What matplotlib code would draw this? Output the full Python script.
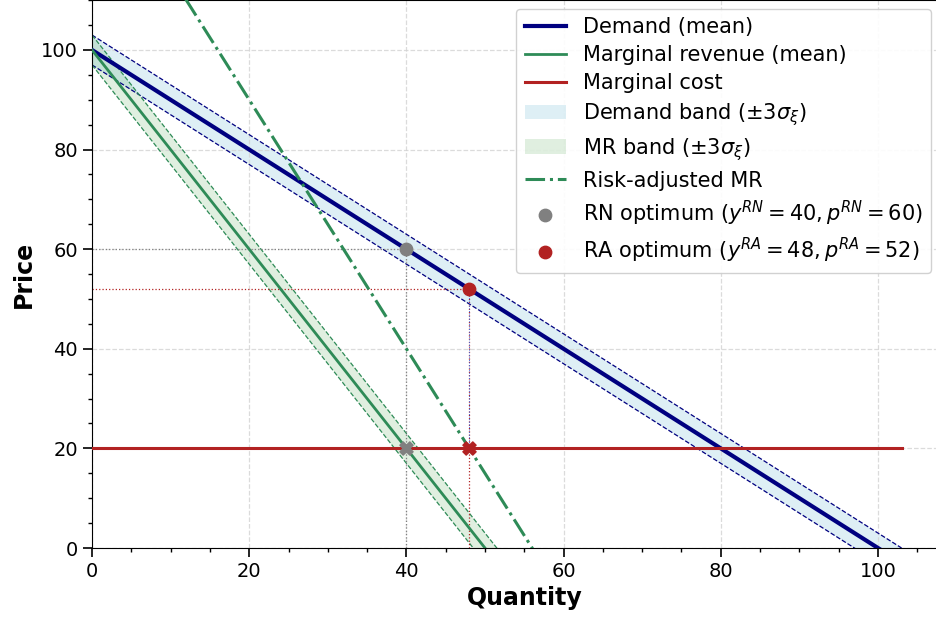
import numpy as np
import matplotlib
matplotlib.use("Agg")
import matplotlib.pyplot as plt

# Model parameters
demand_intercept = 100.0
demand_slope = 1.0
band_halfwidth = 3.0          # 3 * sigma_xi
marginal_cost = 20.0
ra_mr_intercept = 140.0
ra_mr_slope = 2.5
q_max = 103.0

# Optima
y_rn, p_rn = 40, 60
y_ra, p_ra = 48, 52

q = np.linspace(0, q_max, 600)
demand = demand_intercept - demand_slope * q
mr = demand_intercept - 2 * demand_slope * q
ra_mr = ra_mr_intercept - ra_mr_slope * q

fig = plt.figure(figsize=(9.36, 6.19), dpi=100)
ax = fig.add_axes([0.0983, 0.1147, 0.9237, 0.885])

# Uncertainty bands
ax.fill_between(q, demand - band_halfwidth, demand + band_halfwidth,
                color="lightblue", alpha=0.4, lw=0, label=r"Demand band ($\pm3\sigma_\xi$)")
ax.plot(q, demand + band_halfwidth, color="navy", ls="--", lw=0.9)
ax.plot(q, demand - band_halfwidth, color="navy", ls="--", lw=0.9)
ax.fill_between(q, mr - band_halfwidth, mr + band_halfwidth,
                color="green", alpha=0.12, lw=0, label=r"MR band ($\pm3\sigma_\xi$)")
ax.plot(q, mr + band_halfwidth, color="seagreen", ls="--", lw=0.9)
ax.plot(q, mr - band_halfwidth, color="seagreen", ls="--", lw=0.9)

# Mean curves
ax.plot(q, demand, color="navy", lw=3, label="Demand (mean)", zorder=4)
ax.plot(q, mr, color="seagreen", lw=2, label="Marginal revenue (mean)", zorder=4)
ax.plot([0, q_max], [marginal_cost, marginal_cost], color="firebrick", lw=2.2,
        label="Marginal cost", zorder=4)
ax.plot(q, ra_mr, color="seagreen", ls="-.", lw=2.2, label="Risk-adjusted MR", zorder=4)

# Guide lines to the optima
ax.plot([0, y_rn], [p_rn, p_rn], color="gray", ls=":", lw=0.9)
ax.plot([y_rn, y_rn], [0, p_rn], color="gray", ls=":", lw=0.9)
ax.plot([0, y_ra], [p_ra, p_ra], color="firebrick", ls=":", lw=0.9)
ax.plot([y_ra, y_ra], [0, p_ra], color="firebrick", ls=":", lw=0.9)
ax.plot([y_ra, y_ra], [marginal_cost, p_ra], color="royalblue", ls=":", lw=0.7)

# Optimum markers
ax.scatter([y_rn], [p_rn], s=80, color="gray", zorder=6,
           label=rf"RN optimum ($y^{{RN}}={y_rn}, p^{{RN}}={p_rn}$)")
ax.scatter([y_ra], [p_ra], s=80, color="firebrick", zorder=6,
           label=rf"RA optimum ($y^{{RA}}={y_ra}, p^{{RA}}={p_ra}$)")
ax.scatter([y_rn], [marginal_cost], s=90, marker="X", color="gray", zorder=6)
ax.scatter([y_ra], [marginal_cost], s=90, marker="X", color="firebrick", zorder=6)

ax.set_xlim(0, 110)
ax.set_ylim(0, 110)
ax.set_xticks([0, 20, 40, 60, 80, 100])
ax.set_yticks([0, 20, 40, 60, 80, 100])
ax.set_xticks(np.arange(0, 111, 5), minor=True)
ax.set_yticks(np.arange(0, 111, 5), minor=True)
ax.tick_params(axis="both", which="major", labelsize=14, length=6.5, width=1.2)
ax.tick_params(axis="both", which="minor", length=3.2, width=1)
ax.grid(True, which="major", ls="--", color="lightgray", alpha=0.8, lw=0.9)
ax.spines["right"].set_visible(False)

ax.set_xlabel("Quantity", fontsize=17, fontweight="bold")
ax.set_ylabel("Price", fontsize=17, fontweight="bold")

handles, labels = ax.get_legend_handles_labels()
order = ["Demand (mean)", "Marginal revenue (mean)", "Marginal cost",
         r"Demand band ($\pm3\sigma_\xi$)", r"MR band ($\pm3\sigma_\xi$)",
         "Risk-adjusted MR"]
lookup = dict(zip(labels, handles))
ordered = [lookup[k] for k in order] + [h for h, l in zip(handles, labels) if l not in order]
ordered_labels = order + [l for l in labels if l not in order]
ax.legend(ordered, ordered_labels, loc="upper right",
          bbox_to_anchor=(931 / 936, 1 - 9 / 619), bbox_transform=fig.transFigure,
          borderaxespad=0, fontsize=15, framealpha=0.9, labelspacing=0.38)

fig.savefig("out.png", dpi=100)
